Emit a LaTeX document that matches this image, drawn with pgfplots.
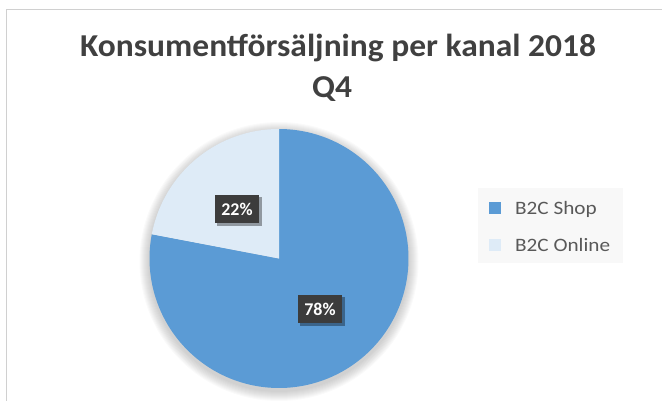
\documentclass[border=0pt]{standalone}
\usepackage{pgfplots}
\pgfplotsset{compat=1.18}
\usepackage{fontspec}
\setmainfont{Carlito}
\definecolor{shop}{HTML}{5B9BD5}
\definecolor{online}{HTML}{DEEBF7}
\definecolor{titlegray}{HTML}{404040}
\definecolor{leggray}{HTML}{595959}
\definecolor{boxgray}{HTML}{3C3C3C}
\definecolor{bordergray}{HTML}{D0D0D0}
\definecolor{legbg}{HTML}{F8F8F8}
% data (percent)
\def\valShop{78}
\def\valOnline{22}
\pgfmathsetmacro{\aStart}{90}
\pgfmathsetmacro{\aMid}{90-3.6*\valShop}
\pgfmathsetmacro{\aEnd}{\aMid-3.6*\valOnline}
\begin{document}
\begin{tikzpicture}
\useasboundingbox (0,0) rectangle (662bp,401bp);
\begin{axis}[
  at={(0,0)}, anchor=south west,
  width=662bp, height=401bp, scale only axis,
  xmin=0, xmax=662, ymin=0, ymax=401, y dir=reverse,
  hide axis, clip=false,
]
% border
\draw[bordergray, line width=1bp] (axis cs:6.5,401) -- (axis cs:6.5,10) -- (axis cs:662,10);
% soft shadow
\pgfplotsinvokeforeach{1,2,3,4,5,6,7,8,9,10}{
  \fill[black, opacity=0.018] (axis cs:279,261.5) circle[radius=#1bp+129.5bp];
}
% pie
\addplot[fill=shop, draw=none, domain=\aMid:\aStart, samples=200]
  ({279+129.5*cos(x)},{258.5-129.5*sin(x)}) -- (axis cs:279,258.5) -- cycle;
\addplot[fill=online, draw=none, domain=\aEnd:\aMid, samples=80]
  ({279+129.5*cos(x)},{258.5-129.5*sin(x)}) -- (axis cs:279,258.5) -- cycle;
% data labels
\fill[black, opacity=0.35] (axis cs:217,197) rectangle (axis cs:262,226);
\node[fill=boxgray, minimum width=44bp, minimum height=28bp, inner sep=0pt,
      text=white, font=\fontsize{18}{20}\selectfont\bfseries] at (axis cs:237,209) {22\%};
\fill[black, opacity=0.35] (axis cs:300,297) rectangle (axis cs:345,326);
\node[fill=boxgray, minimum width=44bp, minimum height=28bp, inner sep=0pt,
      text=white, font=\fontsize{18}{20}\selectfont\bfseries] at (axis cs:320,309) {78\%};
% title
\node[anchor=base, text=titlegray, font=\fontsize{32}{36}\selectfont\bfseries]
  at (axis cs:338,56) {\scalebox{1.05}[1]{Konsumentförsäljning per kanal 2018}};
\node[anchor=base, text=titlegray, font=\fontsize{32}{36}\selectfont\bfseries]
  at (axis cs:332,97) {\scalebox{1.05}[1]{Q4}};
% legend
\fill[legbg] (axis cs:478,188) rectangle (axis cs:623,263);
\fill[shop] (axis cs:489,201.5) rectangle (axis cs:501,213.5);
\fill[online] (axis cs:489,238.5) rectangle (axis cs:501,250.5);
\node[anchor=base west, inner sep=0pt, text=leggray, font=\fontsize{19}{22}\selectfont]
  at (axis cs:515,214) {\scalebox{1.12}[1]{B2C Shop}};
\node[anchor=base west, inner sep=0pt, text=leggray, font=\fontsize{19}{22}\selectfont]
  at (axis cs:515,251) {\scalebox{1.12}[1]{B2C Online}};
\end{axis}
\end{tikzpicture}
\end{document}
